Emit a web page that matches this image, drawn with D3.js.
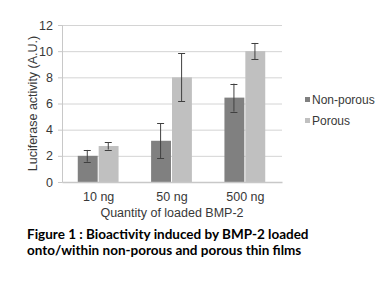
<!DOCTYPE html>
<html>
<head>
<meta charset="utf-8">
<script src="https://cdn.jsdelivr.net/npm/d3@7"></script>
<style>
	body{ margin:0; background:#fff; }
	svg text{ font-family:"Liberation Sans", Arial, sans-serif; fill:#383838; }
	.caption{ font-family:Lato, "Open Sans", sans-serif; font-weight:bold; fill:#000; }
</style>
</head>
<body>
<div id="chart"></div>
<script>
// data
var categories = ["10 ng", "50 ng", "500 ng"]
var seriesNames = ["Non-porous", "Porous"]
var nonPorous = [2.0, 3.15, 6.45]
var nonPorousErr = [0.45, 1.35, 1.07]
var porous = [2.75, 8.0, 10.0]
var porousErr = [0.27, 1.83, 0.63]
var yTicks = [0, 2, 4, 6, 8, 10, 12]
var captionLines = ["Figure 1 : Bioactivity induced by BMP-2 loaded", "onto/within non-porous and porous thin films"]

var colors = ["#808080", "#c0c0c0"]

var margin = {top: 25, right: 107, bottom: 112, left: 62},
    width = 389 - margin.left - margin.right,
    height = 294 - margin.top - margin.bottom;

var svg = d3.select("#chart").append("svg")
	.attr("width", 389)
	.attr("height", 294)

var g = svg.append("g")
	.attr("transform", "translate(" + margin.left + "," + margin.top + ")")

var x0 = d3.scaleBand()
	.domain(categories)
	.range([0, width])
	.paddingInner(0.43)
	.paddingOuter(0.215)

var x1 = d3.scaleBand()
	.domain(seriesNames)
	.range([0, x0.bandwidth()])

var y = d3.scaleLinear()
	.domain([0, 12])
	.range([height, 0])

// gridlines
g.selectAll(".grid")
	.data(yTicks.slice(1))
	.enter().append("line")
	.attr("x1", 0)
	.attr("x2", width)
	.attr("y1", function(d){ return y(d) + 0.5 })
	.attr("y2", function(d){ return y(d) + 0.5 })
	.attr("stroke", "#d4d4d4")

// y axis
var yAxis = g.append("g")
	.call(d3.axisLeft(y).tickValues(yTicks).tickSize(4).tickPadding(5))
yAxis.select(".domain").attr("stroke", "#c8c8c8")
yAxis.selectAll(".tick line").attr("stroke", "#c8c8c8")
yAxis.selectAll("text").style("font-size", "12.5px")

var data = categories.map(function(c, i){
	return [
		{cat: c, name: seriesNames[0], value: nonPorous[i], err: nonPorousErr[i]},
		{cat: c, name: seriesNames[1], value: porous[i], err: porousErr[i]}
	]
})

var groups = g.selectAll(".grp")
	.data(data)
	.enter().append("g")
	.attr("transform", function(d){ return "translate(" + x0(d[0].cat) + ",0)" })

groups.selectAll("rect")
	.data(function(d){ return d })
	.enter().append("rect")
	.attr("x", function(d){ return x1(d.name) })
	.attr("y", function(d){ return y(d.value) })
	.attr("width", x1.bandwidth() - 1)
	.attr("height", function(d){ return height - y(d.value) })
	.attr("fill", function(d, i){ return colors[i] })

// error bars
var eb = groups.selectAll(".err")
	.data(function(d){ return d })
	.enter().append("g")
	.attr("transform", function(d){ return "translate(" + (Math.round(x1(d.name) + x1.bandwidth() / 2) - 0.5) + ",0)" })
eb.append("line")
	.attr("y1", function(d){ return y(d.value + d.err) })
	.attr("y2", function(d){ return y(d.value - d.err) })
	.attr("stroke", "#404040")
eb.selectAll(".cap")
	.data(function(d){ return [d.value + d.err, d.value - d.err] })
	.enter().append("line")
	.attr("x1", -3.5).attr("x2", 3.5)
	.attr("y1", function(v){ return Math.round(y(v)) + 0.5 })
	.attr("y2", function(v){ return Math.round(y(v)) + 0.5 })
	.attr("stroke", "#404040")

// x axis
var xAxis = g.append("g")
	.attr("transform", "translate(0," + height + ")")
	.call(d3.axisBottom(x0).tickSize(0).tickPadding(10))
xAxis.select(".domain").attr("stroke", "#c8c8c8").attr("stroke-width", 1.5)
xAxis.selectAll("text").style("font-size", "12.5px")

// axis titles
g.append("text")
	.attr("x", width / 2)
	.attr("y", height + 35)
	.attr("text-anchor", "middle")
	.style("font-size", "12.5px")
	.text("Quantity  of loaded BMP-2")

g.append("text")
	.attr("transform", "translate(" + (-25) + "," + (y(6)) + ") rotate(-90)")
	.attr("text-anchor", "middle")
	.style("font-size", "12.5px")
	.text("Luciferase activity (A.U.)")

// legend
var legend = svg.append("g")
	.attr("transform", "translate(305,97)")
var li = legend.selectAll(".li")
	.data(seriesNames)
	.enter().append("g")
	.attr("transform", function(d, i){ return "translate(0," + (i * 21) + ")" })
li.append("rect")
	.attr("width", 5).attr("height", 5)
	.attr("fill", function(d, i){ return colors[i] })
li.append("text")
	.attr("x", 7)
	.attr("y", 3)
	.attr("dy", "0.35em")
	.style("font-size", "12px")
	.text(function(d){ return d })

// caption
svg.selectAll(".caption")
	.data(captionLines)
	.enter().append("text")
	.attr("class", "caption")
	.attr("x", 27)
	.attr("y", function(d, i){ return 239 + i * 16 })
	.style("font-size", "13.5px")
	.text(function(d){ return d })
</script>
</body>
</html>
